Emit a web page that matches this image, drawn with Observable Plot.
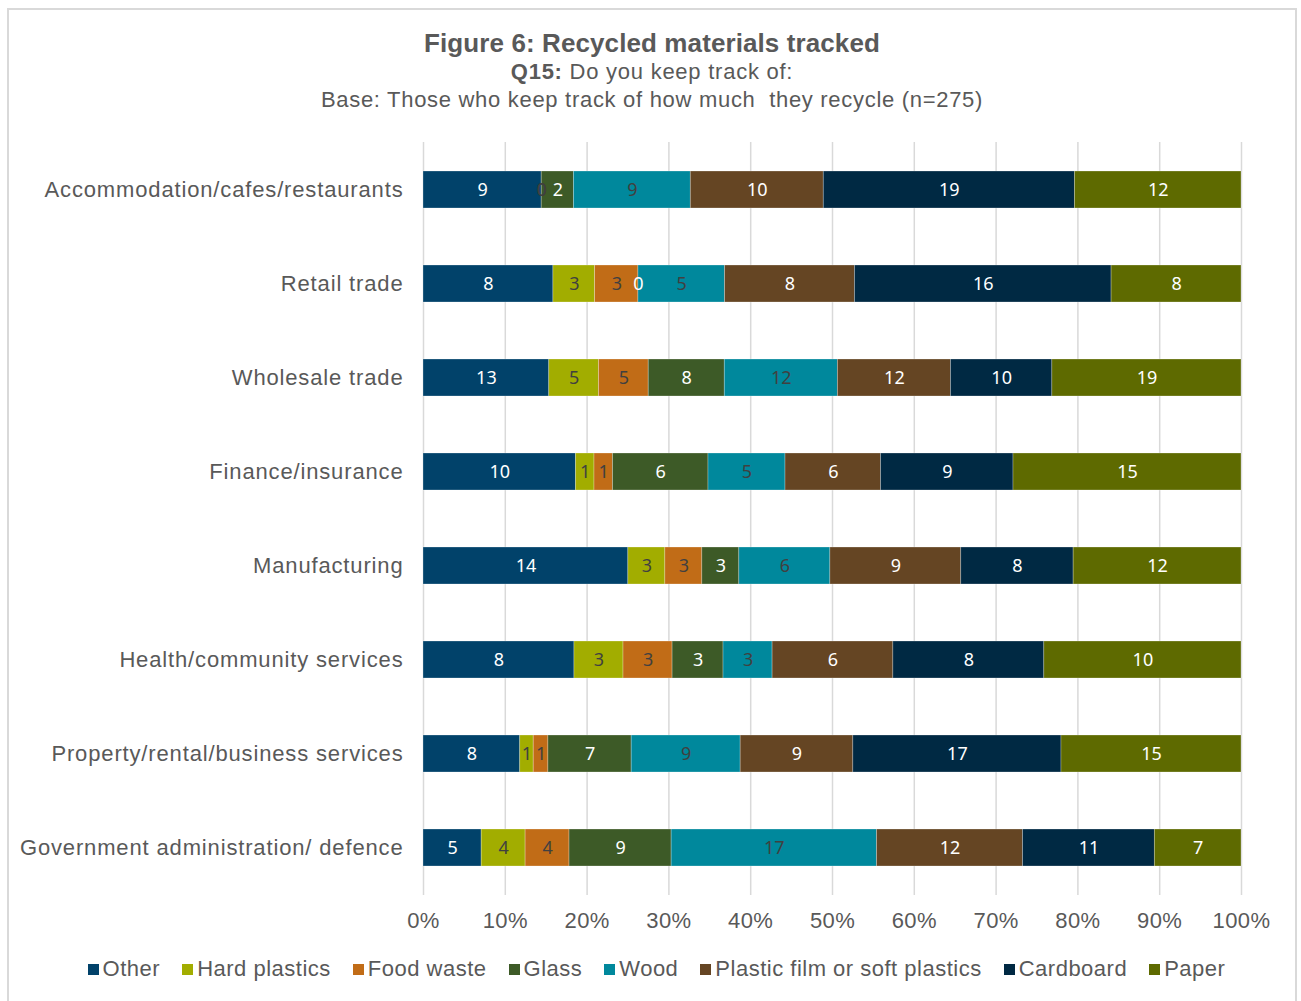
<!DOCTYPE html>
<html>
<head>
<meta charset="utf-8">
<script src="https://cdn.jsdelivr.net/npm/d3@7"></script>
<script src="https://cdn.jsdelivr.net/npm/@observablehq/plot@0.6"></script>
<style>
  html, body { margin: 0; padding: 0; background: #fff; }
  #wrap { position: relative; width: 1301px; height: 1001px; overflow: hidden; font-family: "Liberation Sans", Arial, sans-serif; color: #595959; }
  #frame { position: absolute; left: 7px; top: 8px; width: 1290px; height: 1010px; border: 2px solid #d9d9d9; box-sizing: border-box; }
  .t { position: absolute; left: 0; width: 1304px; text-align: center; white-space: nowrap; }
  #title { top: 28px; font-size: 26px; font-weight: bold; letter-spacing: 0.1px; }
  #sub1 { top: 59px; font-size: 22px; letter-spacing: 0.75px; }
  #sub2 { top: 87px; font-size: 22px; letter-spacing: 0.7px; }
  #chart { position: absolute; left: 0; top: 130px; }
  #chart g[aria-label="y-axis tick label"] text { letter-spacing: 0.85px; }
  #chart g[aria-label="x-axis tick label"] text { letter-spacing: 0.4px; }
  #legend { position: absolute; top: 956px; left: 0; width: 1313px; text-align: center; font-size: 22px; letter-spacing: 0.5px; white-space: nowrap; }
  #legend span.item { margin-right: 22px; }
  #legend span.item:last-child { margin-right: 0; }
  #legend span.sw { display: inline-block; width: 11px; height: 11px; margin-right: 4px; vertical-align: 1px; }
</style>
</head>
<body>
<div id="wrap">
  <div id="frame"></div>
  <div class="t" id="title">Figure 6: Recycled materials tracked</div>
  <div class="t" id="sub1"><b>Q15:</b> Do you keep track of:</div>
  <div class="t" id="sub2">Base: Those who keep track of how much&nbsp; they recycle (n=275)</div>
  <div id="chart"></div>
  <div id="legend"></div>
</div>
<script>
const categories = [
  "Accommodation/cafes/restaurants",
  "Retail trade",
  "Wholesale trade",
  "Finance/insurance",
  "Manufacturing",
  "Health/community services",
  "Property/rental/business services",
  "Government administration/ defence"
];
const seriesNames = ["Other", "Hard plastics", "Food waste", "Glass", "Wood", "Plastic film or soft plastics", "Cardboard", "Paper"];
const seriesColors = ["#01426a", "#a2ad00", "#c16c17", "#3d5a27", "#00889c", "#654523", "#002943", "#5e6a00"];
const labelColors = ["#ffffff", "#404040", "#404040", "#ffffff", "#404040", "#ffffff", "#ffffff", "#ffffff"];

// values per series, in category order
const other        = [8.8, 8.1, 12.9, 9.9, 14.4, 8.0, 7.9, 4.9];
const hardPlastics = [0,   2.6, 5.1,  1.2, 2.6,  2.6, 1.1, 3.7];
const foodWaste    = [0,   2.7, 5.1,  1.2, 2.6,  2.6, 1.2, 3.7];
const glass        = [2.4, 0,   7.8,  6.2, 2.6,  2.7, 6.8, 8.6];
const wood         = [8.7, 5.4, 11.6, 5.0, 6.4,  2.6, 8.9, 17.3];
const plasticFilm  = [9.9, 8.1, 11.6, 6.2, 9.2,  6.4, 9.2, 12.3];
const cardboard    = [18.7,16.0,10.4, 8.6, 7.9,  8.0, 17.0, 11.1];
const paper        = [12.4, 8.1, 19.4, 14.8, 11.8, 10.45, 14.7, 7.3];

const seriesValues = [other, hardPlastics, foodWaste, glass, wood, plasticFilm, cardboard, paper];

const data = [];
categories.forEach((c, i) => {
  seriesNames.forEach((s, j) => {
    data.push({category: c, series: s, value: seriesValues[j][i], labelColor: labelColors[j]});
  });
});

const chart = Plot.plot({
  width: 1301,
  height: 815,
  marginLeft: 423,
  marginRight: 60,
  marginTop: 12,
  marginBottom: 50,
  style: {fontFamily: "'Liberation Sans', Arial, sans-serif", color: "#595959", background: "transparent"},
  x: {domain: [0, 1], label: null},
  y: {domain: categories, label: null, paddingInner: 0.607, paddingOuter: 0.3035},
  color: {domain: seriesNames, range: seriesColors},
  marks: [
    Plot.gridX({ticks: d3.range(0, 1.0001, 0.1), stroke: "#d9d9d9", strokeOpacity: 1, strokeWidth: 1.5}),
    Plot.barX(data, Plot.stackX({x: "value", y: "category", z: "series", fill: "series", offset: "normalize", stroke: "#ffffff", strokeOpacity: 0.35, strokeWidth: 0.75})),
    Plot.text(data, Plot.stackX({x: "value", y: "category", z: "series", offset: "normalize", text: d => String(Math.round(d.value)), fill: "labelColor", fontSize: 18, fontFamily: "'Noto Sans', sans-serif"})),
    Plot.axisX({ticks: d3.range(0, 1.0001, 0.1), tickFormat: d => Math.round(d * 100) + "%", tickSize: 0, tickPadding: 17, fontSize: 22, label: null, fill: "#595959"}),
    Plot.axisY({tickSize: 0, tickPadding: 20, fontSize: 22, label: null, fill: "#595959"})
  ]
});
document.getElementById("chart").appendChild(chart);

const legend = document.getElementById("legend");
seriesNames.forEach((s, j) => {
  const item = document.createElement("span");
  item.className = "item";
  const sw = document.createElement("span");
  sw.className = "sw";
  sw.style.background = seriesColors[j];
  item.appendChild(sw);
  item.appendChild(document.createTextNode(s));
  legend.appendChild(item);
});
</script>
</body>
</html>
